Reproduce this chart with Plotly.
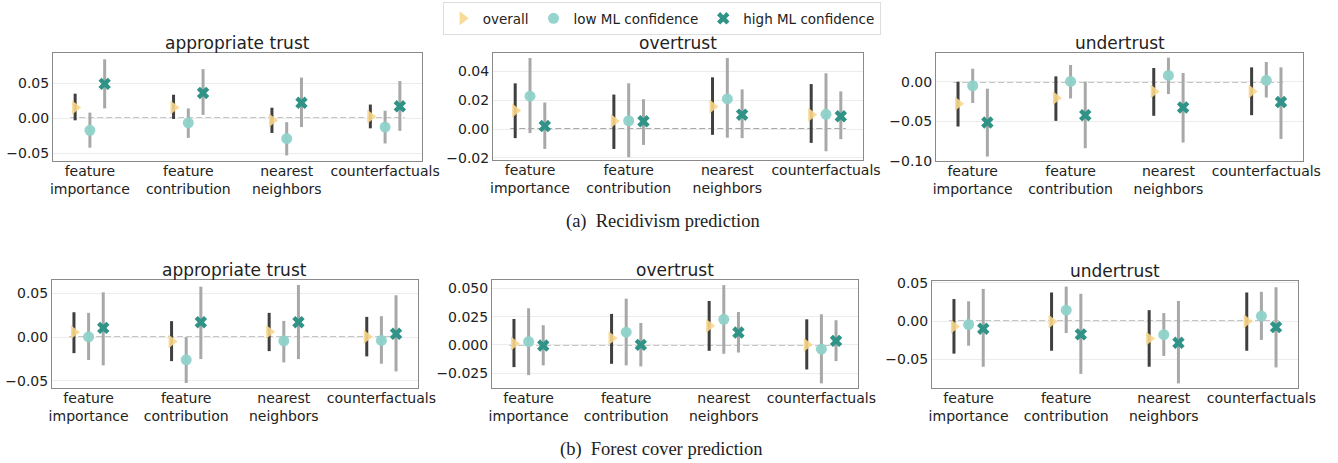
import plotly.graph_objects as go

# ---------------- data ----------------
categories = ["feature importance", "feature contribution", "nearest neighbors", "counterfactuals"]
tick_labels = ["feature<br>importance", "feature<br>contribution", "nearest<br>neighbors", "counterfactuals"]
series_names = ["overall", "low ML confidence", "high ML confidence"]
panel_titles = ["appropriate trust", "overtrust", "undertrust"]
captions = ["(a)  Recidivism prediction", "(b)  Forest cover prediction"]

# Recidivism - appropriate trust
rec_app_overall = [0.0153, 0.0153, -0.003, 0.0023]
rec_app_overall_lo = [-0.003, -0.001, -0.021, -0.0144]
rec_app_overall_hi = [0.035, 0.0335, 0.015, 0.0195]
rec_app_low = [-0.0172, -0.0065, -0.029, -0.0126]
rec_app_low_lo = [-0.042, -0.028, -0.053, -0.036]
rec_app_low_hi = [0.008, 0.014, -0.0056, 0.0107]
rec_app_high = [0.049, 0.036, 0.022, 0.017]
rec_app_high_lo = [0.014, 0.0047, -0.0126, -0.018]
rec_app_high_hi = [0.084, 0.07, 0.058, 0.053]

# Recidivism - overtrust
rec_over_overall = [0.0129, 0.0056, 0.0157, 0.010]
rec_over_overall_lo = [-0.0063, -0.0138, -0.004, -0.0096]
rec_over_overall_hi = [0.0318, 0.024, 0.036, 0.0313]
rec_over_low = [0.0229, 0.0058, 0.021, 0.0103]
rec_over_low_lo = [-0.0028, -0.0196, -0.006, -0.0154]
rec_over_low_hi = [0.0494, 0.0318, 0.0494, 0.0388]
rec_over_high = [0.0021, 0.0054, 0.010, 0.0089]
rec_over_high_lo = [-0.0138, -0.011, -0.0063, -0.007]
rec_over_high_hi = [0.0185, 0.0208, 0.0276, 0.0262]

# Recidivism - undertrust
rec_under_overall = [-0.028, -0.0208, -0.0123, -0.0123]
rec_under_overall_lo = [-0.0568, -0.0496, -0.0432, -0.0424]
rec_under_overall_hi = [0.0, 0.0068, 0.0174, 0.0182]
rec_under_low = [-0.0051, 0.0004, 0.008, 0.0017]
rec_under_low_lo = [-0.027, -0.0212, -0.0157, -0.02]
rec_under_low_hi = [0.0165, 0.0212, 0.0305, 0.025]
rec_under_high = [-0.0517, -0.0424, -0.0326, -0.0258]
rec_under_high_lo = [-0.0949, -0.0843, -0.0771, -0.0725]
rec_under_high_hi = [-0.0089, 0.0, 0.011, 0.0182]

# Forest cover - appropriate trust
for_app_overall = [0.0057, -0.0049, 0.0061, 0.0004]
for_app_overall_lo = [-0.0183, -0.0274, -0.016, -0.022]
for_app_overall_hi = [0.0285, 0.0183, 0.0278, 0.0232]
for_app_low = [0.0004, -0.0259, -0.0042, -0.0038]
for_app_low_lo = [-0.0262, -0.0525, -0.0289, -0.0304]
for_app_low_hi = [0.0278, 0.0, 0.0186, 0.024]
for_app_high = [0.0106, 0.0171, 0.0171, 0.0038]
for_app_high_lo = [-0.0323, -0.0251, -0.0251, -0.0392]
for_app_high_hi = [0.0513, 0.0578, 0.0597, 0.0479]

# Forest cover - overtrust
for_over_overall = [0.0012, 0.0059, 0.0168, 0.0]
for_over_overall_lo = [-0.0197, -0.0168, -0.0053, -0.0218]
for_over_overall_hi = [0.0229, 0.0274, 0.0388, 0.0226]
for_over_low = [0.0029, 0.0112, 0.0226, -0.0038]
for_over_low_lo = [-0.0268, -0.0182, -0.0079, -0.0341]
for_over_low_hi = [0.0324, 0.0409, 0.0529, 0.0271]
for_over_high = [-0.0006, 0.0, 0.0109, 0.0035]
for_over_high_lo = [-0.0182, -0.0191, -0.0068, -0.0144]
for_over_high_hi = [0.0174, 0.0194, 0.0291, 0.0218]

# Forest cover - undertrust
for_under_overall = [-0.0068, -0.0004, -0.0226, 0.0]
for_under_overall_lo = [-0.0423, -0.0385, -0.0594, -0.0385]
for_under_overall_hi = [0.029, 0.0376, 0.0145, 0.0376]
for_under_low = [-0.0043, 0.0145, -0.0175, 0.0068]
for_under_low_lo = [-0.032, -0.0154, -0.0453, -0.0244]
for_under_low_hi = [0.0261, 0.0453, 0.0107, 0.0385]
for_under_high = [-0.0098, -0.0171, -0.0282, -0.0077]
for_under_high_lo = [-0.0594, -0.0688, -0.0812, -0.0603]
for_under_high_hi = [0.0423, 0.0359, 0.0265, 0.0444]

# y tick values per panel
yticks_rec_app = [-0.05, 0.0, 0.05]
yticks_rec_over = [-0.02, 0.0, 0.02, 0.04]
yticks_rec_under = [-0.10, -0.05, 0.0]
yticks_for_app = [-0.05, 0.0, 0.05]
yticks_for_over = [-0.025, 0.0, 0.025, 0.05]
yticks_for_under = [-0.05, 0.0, 0.05]

# ---------------- layout / style ----------------
W, H = 1338, 463
FONT = "DejaVu Sans"

panels = [
    ([(rec_app_overall, rec_app_overall_lo, rec_app_overall_hi),
      (rec_app_low, rec_app_low_lo, rec_app_low_hi),
      (rec_app_high, rec_app_high_lo, rec_app_high_hi)],
     yticks_rec_app, ".2f", [-0.061, 0.093], (53, 422, 53, 161), panel_titles[0]),
    ([(rec_over_overall, rec_over_overall_lo, rec_over_overall_hi),
      (rec_over_low, rec_over_low_lo, rec_over_low_hi),
      (rec_over_high, rec_over_high_lo, rec_over_high_hi)],
     yticks_rec_over, ".2f", [-0.0215, 0.0529], (493, 863, 53, 160), panel_titles[1]),
    ([(rec_under_overall, rec_under_overall_lo, rec_under_overall_hi),
      (rec_under_low, rec_under_low_lo, rec_under_low_hi),
      (rec_under_high, rec_under_high_lo, rec_under_high_hi)],
     yticks_rec_under, ".2f", [-0.1005, 0.0364], (936, 1303, 53, 161), panel_titles[2]),
    ([(for_app_overall, for_app_overall_lo, for_app_overall_hi),
      (for_app_low, for_app_low_lo, for_app_low_hi),
      (for_app_high, for_app_high_lo, for_app_high_hi)],
     yticks_for_app, ".2f", [-0.0582, 0.0654], (52, 418, 280, 388), panel_titles[0]),
    ([(for_over_overall, for_over_overall_lo, for_over_overall_hi),
      (for_over_low, for_over_low_lo, for_over_low_hi),
      (for_over_high, for_over_high_lo, for_over_high_hi)],
     yticks_for_over, ".3f", [-0.0382, 0.0574], (492, 858, 280, 388), panel_titles[1]),
    ([(for_under_overall, for_under_overall_lo, for_under_overall_hi),
      (for_under_low, for_under_low_lo, for_under_low_hi),
      (for_under_high, for_under_high_lo, for_under_high_hi)],
     yticks_for_under, ".2f", [-0.0872, 0.0526], (932, 1298, 281, 388), panel_titles[2]),
]

dodge = [-0.15, 0.0, 0.15]
marker_styles = [
    dict(symbol="triangle-right", size=12, color="rgba(248,214,140,0.9)"),
    dict(symbol="circle", size=11, color="rgba(143,210,201,0.95)"),
    dict(symbol="x", size=11, color="#2f9387"),
]
err_colors = ["#3f3f3f", "#a8a8a8", "#a8a8a8"]

fig = go.Figure()
layout = dict(
    width=W, height=H,
    margin=dict(l=0, r=0, t=0, b=0),
    paper_bgcolor="white", plot_bgcolor="white",
    font=dict(family=FONT, size=14, color="#222"),
    showlegend=True,
    legend=dict(orientation="h", x=0.4945, xanchor="center", y=1 - 2 / H, yanchor="top",
                bordercolor="#dddddd", borderwidth=1, font=dict(size=13.5, family=FONT),
                itemwidth=30, tracegroupgap=0),
)
annotations = []
shapes = []
xcat = list(range(len(categories)))

for pi, (series, yticks, tfmt, yrange, box, title) in enumerate(panels):
    n = pi + 1
    xa = "x" if n == 1 else f"x{n}"
    ya = "y" if n == 1 else f"y{n}"
    x0, x1, y0, y1 = box
    layout[f"xaxis{'' if n == 1 else n}"] = dict(
        domain=[x0 / W, x1 / W], anchor=ya, range=[-0.375, 3.375], automargin=False,
        tickmode="array", tickvals=xcat, ticktext=tick_labels, tickangle=0,
        showgrid=False, zeroline=False, showline=True, mirror=True,
        linecolor="#8a8a8a", linewidth=1, ticks="", ticklabelstandoff=-3,
        tickfont=dict(size=14, color="#222"),
    )
    layout[f"yaxis{'' if n == 1 else n}"] = dict(
        domain=[1 - y1 / H, 1 - y0 / H], anchor=xa, range=yrange, automargin=False,
        tickmode="array", tickvals=yticks, tickformat=tfmt,
        showgrid=True, gridcolor="#ececec", gridwidth=1, zeroline=False,
        showline=True, mirror=True, linecolor="#8a8a8a", linewidth=1,
        ticks="", tickfont=dict(size=14, color="#222"),
    )
    shapes.append(dict(type="line", xref=xa, yref=ya, x0=-0.2, x1=3.2, y0=0, y1=0,
                       line=dict(color="#8c8c8c", width=1.5, dash="6px,3px"), layer="below"))
    for si, (mean, lo, hi) in enumerate(series):
        xs = [c + dodge[si] for c in xcat]
        fig.add_trace(go.Scatter(
            x=xs, y=mean, mode="markers", name=series_names[si],
            legendgroup=series_names[si], showlegend=(pi == 0),
            xaxis=xa, yaxis=ya,
            marker=dict(symbol=marker_styles[si]["symbol"], size=marker_styles[si]["size"],
                        color=marker_styles[si]["color"], line=dict(width=0)),
            error_y=dict(type="data", symmetric=False,
                         array=[h - m for h, m in zip(hi, mean)],
                         arrayminus=[m - l for m, l in zip(mean, lo)],
                         color=err_colors[si], thickness=3, width=0),
            hoverinfo="skip",
        ))
    annotations.append(dict(text=title, xref="paper", yref="paper",
                            x=(x0 + x1) / 2 / W, y=1 - y0 / H, xanchor="center", yanchor="bottom",
                            yshift=-2, showarrow=False,
                            font=dict(size=17, family=FONT, color="#222")))

annotations.append(dict(text=captions[0], xref="paper", yref="paper", x=663 / W, y=1 - 222 / H,
                        xanchor="center", yanchor="middle", showarrow=False,
                        font=dict(size=18.5, family="Liberation Serif", color="#222")))
annotations.append(dict(text=captions[1], xref="paper", yref="paper", x=661 / W, y=1 - 449 / H,
                        xanchor="center", yanchor="middle", showarrow=False,
                        font=dict(size=18.5, family="Liberation Serif", color="#222")))

layout["annotations"] = annotations
layout["shapes"] = shapes
fig.update_layout(**layout)
fig.write_html("out.html", config={"displayModeBar": False},
               post_script="document.body.style.margin='0px';")
